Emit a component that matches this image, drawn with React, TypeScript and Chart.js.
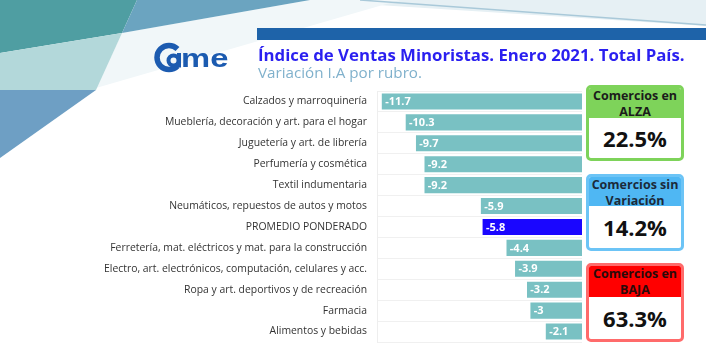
import React, { useEffect, useRef } from "react";
import { Chart, registerables } from "chart.js";

Chart.register(...registerables);

const categories = [
  "Calzados y marroquinería",
  "Mueblería, decoración y art. para el hogar",
  "Juguetería y art. de librería",
  "Perfumería y cosmética",
  "Textil indumentaria",
  "Neumáticos, repuestos de autos y motos",
  "PROMEDIO PONDERADO",
  "Ferretería, mat. eléctricos y mat. para la construcción",
  "Electro, art. electrónicos, computación, celulares y acc.",
  "Ropa y art. deportivos y de recreación",
  "Farmacia",
  "Alimentos y bebidas",
];
const values = [-11.7, -10.3, -9.7, -9.2, -9.2, -5.9, -5.8, -4.4, -3.9, -3.2, -3, -2.1];
const highlightCategory = "PROMEDIO PONDERADO";

const titleText = "Índice de Ventas Minoristas. Enero 2021. Total País.";
const subtitleText = "Variación I.A por rubro.";

const boxHeaders = [["Comercios en", "ALZA"], ["Comercios sin", "Variación"], ["Comercios en", "BAJA"]];
const boxValues = ["22.5%", "14.2%", "63.3%"];

const TEAL = "#79c1c3";
const HIGHLIGHT = "#1a06ff";

const backgroundPlugin = {
  id: "bgDecor",
  beforeDraw(chart: any) {
    const ctx = chart.ctx as CanvasRenderingContext2D;
    const poly = (pts: number[][], color: string) => {
      ctx.beginPath();
      ctx.moveTo(pts[0][0], pts[0][1]);
      for (let i = 1; i < pts.length; i++) ctx.lineTo(pts[i][0], pts[i][1]);
      ctx.closePath();
      ctx.fillStyle = color;
      ctx.fill();
    };
    ctx.save();
    ctx.fillStyle = "#ffffff";
    ctx.fillRect(0, 0, chart.width, chart.height);
    poly([[300, 0], [706, 0], [706, 26]], "#e6f0f4");
    poly([[122, 33], [310, 0], [400, 0], [96, 88]], "#f1f7f9");
    poly([[0, 0], [137, 0], [122, 33], [0, 53]], "#4f9ea2");
    poly([[137, 0], [310, 0], [122, 33]], "#6ba4c0");
    poly([[0, 53], [122, 33], [96, 90], [0, 90]], "#b3d8da");
    poly([[0, 90], [96, 90], [0, 158]], "#6e9fc4");
    ctx.strokeStyle = "#a9c9d9";
    ctx.lineWidth = 1.5;
    ctx.beginPath();
    ctx.moveTo(360, 0);
    ctx.lineTo(706, 25);
    ctx.stroke();
    // top blue band
    ctx.fillStyle = "#1e63a9";
    ctx.fillRect(257, 28, 449, 12);
    // logo
    ctx.strokeStyle = "#1c5bb0";
    ctx.fillStyle = "#1c5bb0";
    ctx.lineWidth = 5.5;
    ctx.beginPath();
    ctx.arc(169, 57.5, 12, 0.25 * Math.PI, 1.75 * Math.PI);
    ctx.stroke();
    ctx.lineWidth = 4;
    ctx.beginPath();
    ctx.arc(173.5, 60.5, 5, 0, 2 * Math.PI);
    ctx.stroke();
    ctx.fillRect(177, 53, 4, 14.5);
    ctx.save();
    ctx.translate(181, 67);
    ctx.scale(1.26, 1);
    ctx.font = "bold 26px 'Liberation Sans'";
    ctx.textBaseline = "alphabetic";
    ctx.fillText("me", 0, 0);
    ctx.restore();
    ctx.restore();
  },
};

const valueLabelPlugin = {
  id: "valueLabels",
  afterDatasetsDraw(chart: any) {
    const ctx = chart.ctx as CanvasRenderingContext2D;
    const meta = chart.getDatasetMeta(0);
    ctx.save();
    ctx.font = "bold 11px 'Open Sans'";
    ctx.fillStyle = "#ffffff";
    ctx.textAlign = "left";
    ctx.textBaseline = "middle";
    meta.data.forEach((bar: any, i: number) => {
      const v = chart.data.datasets[0].data[i];
      ctx.fillText(String(v), bar.x + 3, bar.y + 0.5);
    });
    ctx.restore();
  },
};

export default function App() {
  const canvasRef = useRef<HTMLCanvasElement | null>(null);

  useEffect(() => {
    document.body.style.margin = "0";
    const canvas = canvasRef.current;
    if (!canvas) return;
    const chart = new Chart(canvas, {
      type: "bar",
      data: {
        labels: categories,
        datasets: [
          {
            data: values,
            backgroundColor: categories.map((c) => (c === highlightCategory ? HIGHLIGHT : TEAL)),
            borderWidth: 0,
            barThickness: 15.5,
          },
        ],
      },
      options: {
        indexAxis: "y",
        animation: false,
        responsive: false,
        maintainAspectRatio: false,
        layout: { padding: { top: 91, bottom: 11, right: 124, left: 0 } },
        plugins: { legend: { display: false }, tooltip: { enabled: false }, title: { display: false } },
        scales: {
          x: {
            min: -12,
            max: 0,
            display: false,
          },
          y: {
            afterFit(scale: any) {
              scale.width = 377;
              scale.paddingTop = 0;
              scale.paddingBottom = 0;
            },
            border: { display: true, color: "#eeeeee" },
            grid: { display: true, color: "#f0f0f0", drawTicks: false, offset: true },
            ticks: {
              padding: 10,
              color: "#333333",
              font: { family: "'Open Sans'", size: 10.4 },
            },
          },
        },
      },
      plugins: [backgroundPlugin, valueLabelPlugin],
    });
    return () => chart.destroy();
  }, []);

  const boxColors = [
    { head: "#7ed35a", border: "#7ed35a", text: "#1b1b1b", top: 85, h: 76, headH: 33 },
    { head: "#4fb7f3", border: "#6cc4f6", text: "#1b2a3a", top: 174, h: 77, headH: 32 },
    { head: "#ff0000", border: "#ff6b6b", text: "#2a0a0a", top: 263, h: 79, headH: 34 },
  ];

  return (
    <div style={{ position: "fixed", left: 0, top: 0, width: 706, height: 353, overflow: "hidden", background: "#fff" }}>
      <canvas ref={canvasRef} width={706} height={353} style={{ position: "absolute", left: 0, top: 0, width: 706, height: 353 }} />
      <div
        style={{
          position: "absolute",
          left: 258,
          top: 43.5,
          fontFamily: "'Open Sans'",
          fontWeight: 700,
          fontSize: 16.8,
          color: "#2a1ff0",
          whiteSpace: "nowrap",
          lineHeight: "22px",
        }}
      >
        {titleText}
      </div>
      <div
        style={{
          position: "absolute",
          left: 258,
          top: 62,
          fontFamily: "'Open Sans'",
          fontSize: 15.2,
          color: "#80b1cc",
          whiteSpace: "nowrap",
          lineHeight: "20px",
        }}
      >
        {subtitleText}
      </div>
      {boxColors.map((b, i) => (
        <div
          key={i}
          style={{
            position: "absolute",
            left: 586,
            top: b.top,
            width: 98,
            height: b.h,
            boxSizing: "border-box",
            border: `3px solid ${b.border}`,
            borderRadius: 5,
            background: "#ffffff",
            overflow: "hidden",
            fontFamily: "'Open Sans'",
            textAlign: "center",
          }}
        >
          <div
            style={{
              background: b.head,
              height: b.headH - 3,
              color: b.text,
              fontWeight: 700,
              fontSize: 12.5,
              lineHeight: "16px",
              paddingTop: 0,
            }}
          >
            {boxHeaders[i][0]}
            <br />
            {boxHeaders[i][1]}
          </div>
          <div
            style={{
              color: "#111111",
              fontWeight: 700,
              fontSize: 22,
              lineHeight: `${b.h - b.headH - 3}px`,
            }}
          >
            {boxValues[i]}
          </div>
        </div>
      ))}
    </div>
  );
}
